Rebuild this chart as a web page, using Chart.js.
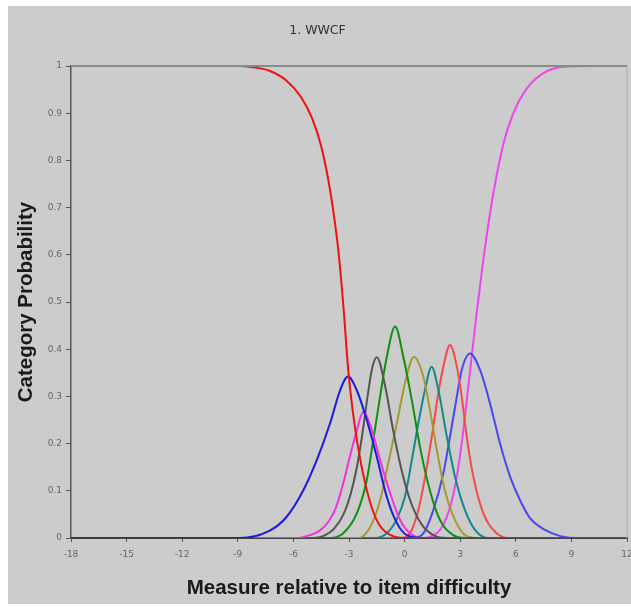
<!DOCTYPE html>
<html>
<head>
<meta charset="utf-8">
<title>1. WWCF</title>
<script src="https://cdn.jsdelivr.net/npm/chart.js@4/dist/chart.umd.min.js"></script>
<style>
  html, body { margin: 0; padding: 0; background: #fff; overflow: hidden; }
  #wrap { position: absolute; left: 8px; top: 6px; width: 640px; height: 598px; background: #cccccc; }
</style>
</head>
<body>
<div id="wrap"><canvas id="chart" width="640" height="598"></canvas></div>
<script>
// Category probability curves: [measure, probability]
const cat0 = [[-18, 1], [-8.9, 1], [-8.3, 0.998], [-7.3, 0.99], [-6.4, 0.97], [-5.6, 0.935], [-5.0, 0.89],
  [-4.5, 0.83], [-4.1, 0.755], [-3.8, 0.68], [-3.55, 0.6], [-3.3, 0.49], [-3.05, 0.36], [-2.8, 0.27],
  [-2.5, 0.19], [-2.15, 0.12], [-1.75, 0.062], [-1.35, 0.027], [-0.8, 0.007], [0, 0], [12, 0]];
const cat1 = [[-18, 0], [-8.9, 0], [-7.3, 0.015], [-6.36, 0.045], [-5.48, 0.1], [-4.74, 0.165], [-4.02, 0.243],
  [-3.48, 0.313], [-3.05, 0.342], [-2.58, 0.313], [-2.04, 0.25], [-1.5, 0.172], [-0.96, 0.087], [-0.42, 0.032],
  [0.12, 0.006], [1, 0], [12, 0]];
const cat2 = [[-18, 0], [-5.8, 0], [-5.2, 0.005], [-4.6, 0.015], [-4.1, 0.035], [-3.7, 0.065], [-3.35, 0.11],
  [-3.0, 0.165], [-2.6, 0.225], [-2.23, 0.267], [-1.77, 0.229], [-1.32, 0.165], [-0.78, 0.095], [-0.24, 0.038],
  [0.29, 0.01], [1, 0], [12, 0]];
const cat3 = [[-18, 0], [-4.9, 0], [-4.4, 0.004], [-3.8, 0.02], [-3.3, 0.05], [-2.9, 0.095], [-2.6, 0.145],
  [-2.3, 0.215], [-1.96, 0.31], [-1.75, 0.36], [-1.5, 0.383], [-1.04, 0.32], [-0.65, 0.235], [-0.2, 0.15],
  [0.3, 0.08], [0.9, 0.03], [1.6, 0.005], [2.3, 0], [12, 0]];
const cat4 = [[-18, 0], [-4, 0], [-3.31, 0.01], [-2.58, 0.052], [-2.04, 0.123], [-1.69, 0.208], [-1.32, 0.3],
  [-0.96, 0.384], [-0.51, 0.448], [-0.07, 0.384], [0.39, 0.292], [0.83, 0.193], [1.37, 0.1], [1.91, 0.038],
  [2.63, 0.006], [3.3, 0], [12, 0]];
const cat5 = [[-18, 0], [-2.5, 0], [-1.86, 0.023], [-1.32, 0.08], [-0.88, 0.159], [-0.42, 0.243], [0.02, 0.328],
  [0.5, 0.384], [1.01, 0.342], [1.37, 0.271], [1.74, 0.186], [2.18, 0.1], [2.72, 0.038], [3.35, 0.004], [4, 0], [12, 0]];
const cat6 = [[-18, 0], [-1.6, 0], [-0.96, 0.01], [-0.42, 0.04], [0.02, 0.088], [0.39, 0.165], [0.74, 0.243],
  [1.1, 0.314], [1.46, 0.363], [1.82, 0.314], [2.28, 0.215], [2.72, 0.13], [3.26, 0.059], [3.8, 0.017], [4.5, 0], [12, 0]];
const cat7 = [[-18, 0], [-0.2, 0], [0.39, 0.017], [0.83, 0.074], [1.2, 0.151], [1.55, 0.236], [1.82, 0.307],
  [2.09, 0.363], [2.45, 0.409], [2.82, 0.363], [3.08, 0.3], [3.35, 0.215], [3.71, 0.13], [4.25, 0.052],
  [4.97, 0.01], [5.6, 0], [12, 0]];
const cat8 = [[-18, 0], [0.4, 0], [1.01, 0.01], [1.55, 0.059], [2.09, 0.137], [2.45, 0.215], [2.82, 0.3],
  [3.08, 0.356], [3.53, 0.391], [4.07, 0.356], [4.61, 0.285], [5.15, 0.2], [5.69, 0.13], [6.23, 0.08],
  [6.77, 0.042], [7.58, 0.017], [8.4, 0.004], [9.5, 0], [12, 0]];
const cat9 = [[-18, 0], [0.8, 0], [1.74, 0.01], [2.28, 0.045], [2.72, 0.109], [3.08, 0.2], [3.35, 0.29],
  [3.62, 0.385], [3.9, 0.48], [4.2, 0.575], [4.52, 0.665], [4.88, 0.75], [5.33, 0.835], [5.87, 0.9],
  [6.59, 0.952], [7.49, 0.985], [8.75, 0.999], [10.55, 1], [12, 1]];

const curves = [cat0, cat1, cat2, cat3, cat4, cat5, cat6, cat7, cat8, cat9];
const curveColors = ['#ee1111', '#1a1ae0', '#ee33dd', '#555555', '#109010', '#a39b30', '#108a8a', '#f84848', '#4848ee', '#ee44ee'];

// x ticks -18..12 step 3, y ticks 0..1 step 0.1
const xMin = -18, xMax = 12, xStep = 3;
const yMin = 0, yMax = 1, yStep = 0.1;

const chartTitle = '1. WWCF';
const xTitle = 'Measure relative to item difficulty';
const yTitle = 'Category Probability';

// ========== Top and right frame lines ==========
const framePlugin = {
  id: 'frame',
  afterDatasetsDraw(chart) {
    const { ctx, chartArea: a } = chart;
    ctx.save();
    ctx.strokeStyle = '#8a8a8a';
    ctx.lineWidth = 2;
    ctx.beginPath();
    ctx.moveTo(a.left, a.top);
    ctx.lineTo(a.right, a.top);
    ctx.stroke();
    ctx.strokeStyle = '#aaaaaa';
    ctx.lineWidth = 1;
    ctx.beginPath();
    ctx.moveTo(a.right, a.top);
    ctx.lineTo(a.right, a.bottom);
    ctx.stroke();
    ctx.restore();
  }
};

const tickFont = { family: '"DejaVu Sans", sans-serif', size: 9 };
const titleFont = { family: '"Liberation Sans", Arial, sans-serif', size: 20.5, weight: 'bold' };

new Chart(document.getElementById('chart'), {
  type: 'line',
  data: {
    datasets: curves.map((c, i) => ({
      data: c.map(([x, y]) => ({ x, y })),
      borderColor: curveColors[i],
      borderWidth: 2,
      pointRadius: 0,
      fill: false,
      cubicInterpolationMode: 'monotone'
    }))
  },
  options: {
    responsive: false,
    animation: false,
    layout: { padding: { left: 0, right: 21, top: 0, bottom: 0 } },
    plugins: {
      legend: { display: false },
      tooltip: { enabled: false },
      title: {
        display: true,
        text: chartTitle,
        color: '#333',
        font: { family: '"DejaVu Sans", sans-serif', size: 12.5, weight: 'normal' },
        padding: { top: 17.5, bottom: 27.5 }
      }
    },
    scales: {
      x: {
        type: 'linear',
        min: xMin,
        max: xMax,
        afterFit: s => { s.height = 66; },
        ticks: { stepSize: xStep, autoSkip: false, maxRotation: 0, color: '#666', font: tickFont, padding: 7 },
        grid: { drawOnChartArea: false, tickLength: 4, color: '#555' },
        border: { color: '#444', width: 2 },
        title: { display: true, text: xTitle, color: '#1a1a1a', font: titleFont, padding: { top: 0, bottom: 3 } }
      },
      y: {
        min: yMin,
        max: yMax,
        afterFit: s => { s.width = 63; },
        ticks: { stepSize: yStep, color: '#666', font: tickFont, padding: 4, callback: v => String(Math.round(v * 10) / 10) },
        grid: { drawOnChartArea: false, tickLength: 5, color: '#555' },
        border: { color: '#555', width: 1.5 },
        title: { display: true, text: yTitle, color: '#1a1a1a', font: titleFont, padding: { top: 6, bottom: 0 } }
      }
    }
  },
  plugins: [framePlugin]
});
</script>
</body>
</html>
